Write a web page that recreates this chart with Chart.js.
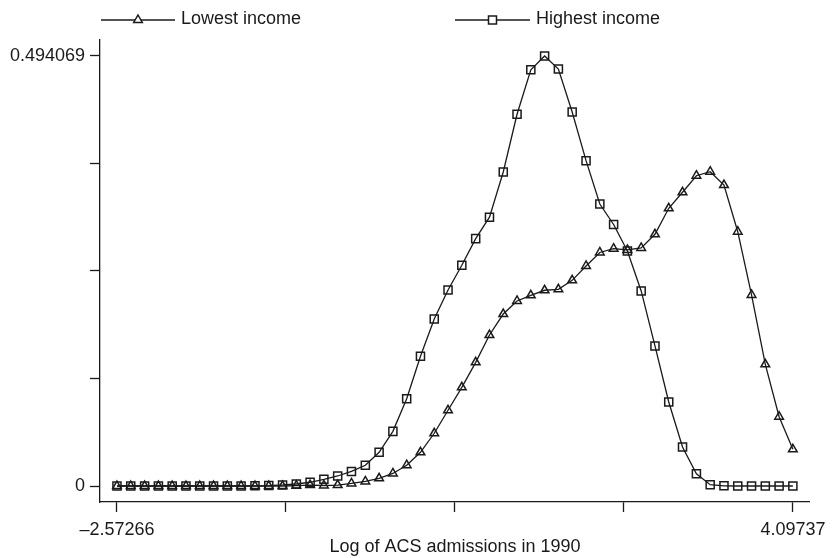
<!DOCTYPE html>
<html>
<head>
<meta charset="utf-8">
<script src="https://cdn.jsdelivr.net/npm/chart.js@4/dist/chart.umd.min.js"></script>
<style>
  body { margin: 0; background: #fff; }
  canvas { display: block; }
</style>
</head>
<body>
<canvas id="chart" width="833" height="558"></canvas>
<script>
// density evaluation grid (log of ACS admissions in 1990)
const grid = [
  -2.573, -2.437, -2.300, -2.164, -2.028, -1.892, -1.756, -1.620, -1.484, -1.348,
  -1.211, -1.075, -0.939, -0.803, -0.667, -0.531, -0.395, -0.259, -0.122, 0.014,
  0.150, 0.286, 0.422, 0.558, 0.694, 0.830, 0.967, 1.103, 1.239, 1.375,
  1.511, 1.647, 1.783, 1.919, 2.056, 2.192, 2.328, 2.464, 2.600, 2.736,
  2.872, 3.008, 3.145, 3.281, 3.417, 3.553, 3.689, 3.825, 3.961, 4.097
]

const lowest = [
  0, 0, 0, 0, 0, 0, 0, 0, 0, 0,
  0, 0, 0, 0.0004, 0.0011, 0.0006, 0.0011, 0.0029, 0.0052, 0.0088,
  0.0144, 0.0239, 0.0387, 0.0606, 0.0870, 0.1134, 0.1421, 0.1735, 0.1976, 0.2126,
  0.2191, 0.2249, 0.2260, 0.2363, 0.2528, 0.2683, 0.2727, 0.2712, 0.2735, 0.2892,
  0.3191, 0.3375, 0.3565, 0.3611, 0.3458, 0.2922, 0.2195, 0.1398, 0.0796, 0.0422
]

const highest = [
  0, 0, 0, 0, 0, 0, 0, 0, 0, 0,
  0.0002, 0.0005, 0.0012, 0.0023, 0.0043, 0.0077, 0.0115, 0.0167, 0.0238, 0.0387,
  0.0628, 0.1003, 0.1490, 0.1919, 0.2252, 0.2536, 0.2842, 0.3089, 0.3608, 0.4271,
  0.4783, 0.494069, 0.4791, 0.4297, 0.3738, 0.3240, 0.3005, 0.2700, 0.2241, 0.1609,
  0.0965, 0.0448, 0.0141, 0.0015, 0.0002, 0, 0, 0, 0, 0
]

const xTicks = [-2.57266, -0.905152, 0.762355, 2.429862, 4.09737]
const xTickLabels = ['\u20132.57266', '', '', '', '4.09737']
const yTicks = [0, 0.123517, 0.247035, 0.370552, 0.494069]
const yTickLabels = ['0', '', '', '', '0.494069']

const ink = '#1a1a1a'
const font = { family: 'Liberation Sans, Arial, Helvetica, sans-serif', size: 18 }

const toPoints = (ys) => ys.map((y, i) => ({ x: grid[i], y: y }))

// Stata style legend: line sample with marker in the middle
const legendPlugin = {
  id: 'stataLegend',
  afterDraw(chart) {
    const ctx = chart.ctx
    const items = [
      { x0: 101, x1: 175, label: 'Lowest income', marker: 'triangle' },
      { x0: 455, x1: 530, label: 'Highest income', marker: 'rect' }
    ]
    const y = 20
    ctx.save()
    ctx.strokeStyle = ink
    ctx.fillStyle = ink
    items.forEach(it => {
      ctx.lineWidth = 1.3
      ctx.beginPath()
      ctx.moveTo(it.x0, y)
      ctx.lineTo(it.x1, y)
      ctx.stroke()
      const mx = (it.x0 + it.x1) / 2
      ctx.lineWidth = 1.5
      ctx.beginPath()
      if (it.marker === 'triangle') {
        ctx.moveTo(mx, y - 5)
        ctx.lineTo(mx + 4.3, y + 2.5)
        ctx.lineTo(mx - 4.3, y + 2.5)
        ctx.closePath()
      } else {
        ctx.rect(mx - 4, y - 4, 8, 8)
      }
      ctx.fillStyle = '#fff'
      ctx.fill()
      ctx.stroke()
      ctx.fillStyle = ink
      ctx.font = `${font.size}px ${font.family}`
      ctx.textBaseline = 'middle'
      ctx.textAlign = 'left'
      ctx.fillText(it.label, it.x1 + 6, y - 1)
    })
    ctx.restore()
  }
}

new Chart(document.getElementById('chart'), {
  type: 'line',
  data: {
    datasets: [
      {
        label: 'Lowest income',
        data: toPoints(lowest),
        borderColor: ink,
        borderWidth: 1.3,
        pointStyle: 'triangle',
        pointRadius: 5,
        pointBorderWidth: 1.5,
        pointBorderColor: ink,
        pointBackgroundColor: 'rgba(0,0,0,0)',
        tension: 0,
        fill: false
      },
      {
        label: 'Highest income',
        data: toPoints(highest),
        borderColor: ink,
        borderWidth: 1.3,
        pointStyle: 'rect',
        pointRadius: 5.7,
        pointBorderWidth: 1.5,
        pointBorderColor: ink,
        pointBackgroundColor: 'rgba(0,0,0,0)',
        tension: 0,
        fill: false
      }
    ]
  },
  options: {
    responsive: false,
    animation: false,
    layout: { padding: { top: 40, right: 23, left: 0, bottom: 0 } },
    plugins: {
      legend: { display: false },
      tooltip: { enabled: false }
    },
    scales: {
      x: {
        type: 'linear',
        min: -2.7404,
        max: 4.2651,
        afterBuildTicks: (axis) => { axis.ticks = xTicks.map(v => ({ value: v })) },
        afterFit: (axis) => { axis.height = 56 },
        ticks: {
          autoSkip: false,
          maxRotation: 0,
          padding: 7,
          color: ink,
          font: font,
          callback: (value, index) => xTickLabels[index]
        },
        grid: { drawOnChartArea: false, tickLength: 10, color: ink, tickWidth: 1.3 },
        border: { display: true, color: ink, width: 1.3 },
        title: {
          display: true,
          text: 'Log of ACS admissions in 1990',
          color: ink,
          font: font,
          padding: { top: 0, bottom: 0 }
        }
      },
      y: {
        type: 'linear',
        min: -0.01838,
        max: 0.51245,
        afterBuildTicks: (axis) => { axis.ticks = yTicks.map(v => ({ value: v })) },
        afterFit: (axis) => { axis.width = 100 },
        ticks: {
          autoSkip: false,
          padding: 5,
          color: ink,
          font: font,
          callback: (value, index) => yTickLabels[index]
        },
        grid: { drawOnChartArea: false, tickLength: 10, color: ink, tickWidth: 1.3 },
        border: { display: true, color: ink, width: 1.3 }
      }
    }
  },
  plugins: [legendPlugin]
})
</script>
</body>
</html>
